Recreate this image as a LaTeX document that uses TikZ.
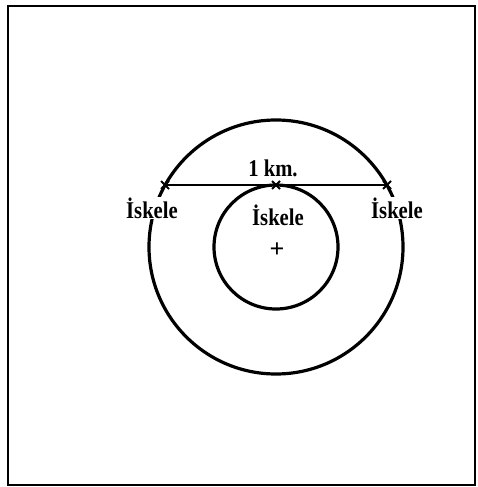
\documentclass[tikz,border=0pt]{standalone}
\usepackage{fontspec}
\setmainfont{Liberation Serif}
\begin{document}
\begin{tikzpicture}[x=1pt,y=-1pt,
  ring/.style={line width=3.2pt},
  lbl/.style={font=\fontsize{24}{26}\selectfont\bfseries, inner sep=1pt, xscale=0.86},
  xmark/.style={line width=2pt}]
\useasboundingbox (0,0) rectangle (477,487);
\draw[line width=1.8pt] (8,6) rectangle (475,485);
\coordinate (c) at (276,247);
\draw[ring] (c) circle[radius=62];
\draw[ring] (c) circle[radius=127];
\coordinate (pl) at (165,185);
\coordinate (pm) at (276,185);
\coordinate (pr) at (387,185);
\draw[line width=2.6pt] (pl) -- (pr);
\foreach \p in {pl,pm,pr}{
  \draw[xmark] ([shift={(-4,-4)}]\p) -- ([shift={(4,4)}]\p);
  \draw[xmark] ([shift={(-4,4)}]\p) -- ([shift={(4,-4)}]\p);
}
\node[lbl] (km) at (273,168) {1 km.};
\node[lbl, fill=white] (il) at (152,208) {İskele};
\node[lbl] (im) at (278,215) {İskele};
\node[lbl, fill=white] (ir) at (397,208) {İskele};
\node[font=\fontsize{26}{28}\selectfont\bfseries] (plus) at (277,250) {+};
\end{tikzpicture}
\end{document}
